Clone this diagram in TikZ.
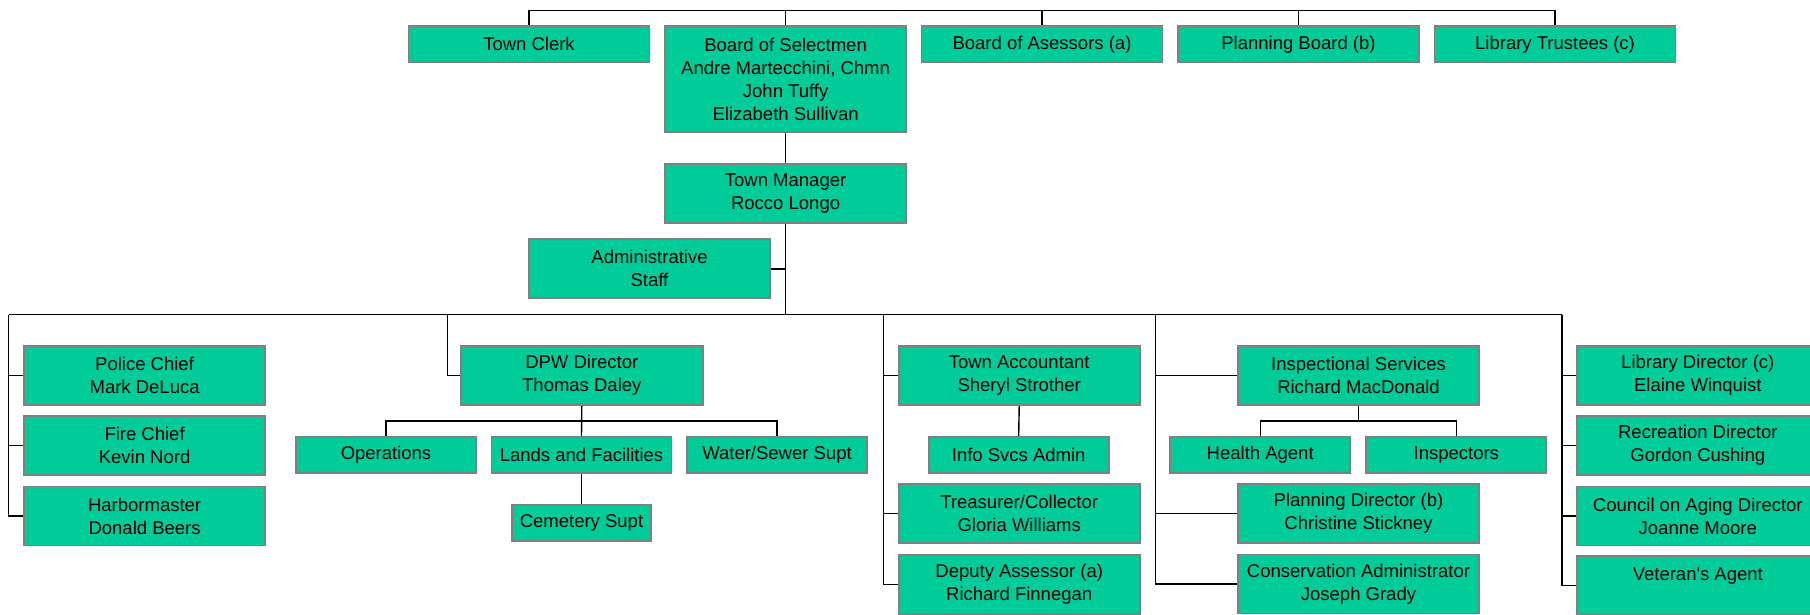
\documentclass[tikz,border=0pt]{standalone}
\usepackage{fontspec}
\setmainfont{Liberation Sans}
\usepackage{tikz}
\usetikzlibrary{calc}

\definecolor{boxgreen}{RGB}{0,204,153}
\definecolor{boxedge}{RGB}{128,128,128}

\begin{document}
\begin{tikzpicture}[x=1pt,y=-1pt,
    post/.style={draw=boxedge, line width=1.8pt, fill=boxgreen, inner sep=0pt,
        minimum width=241pt, minimum height=59pt, align=center,
        font=\fontsize{18.5}{23}\selectfont},
    onerow/.style={post, minimum height=36pt},
    small/.style={post, minimum width=180pt, minimum height=36.6pt},
    link/.style={line width=1.4pt}]
    %%Background
    \useasboundingbox (0,0) rectangle (1810,614);

    %% Board level
    \node[onerow] (clerk) at (529,44.3) {Town Clerk};
    \node[post, minimum height=105.4pt] (board) at (785.6,79)
        {Board of Selectmen\\Andre Martecchini, Chmn\\John Tuffy\\Elizabeth Sullivan};
    \node[onerow] (assessors) at (1042,44.3) {Board of Asessors (a)};
    \node[onerow] (planning) at (1298.5,44.3) {Planning Board (b)};
    \node[onerow] (trustees) at (1555,44.3) {Library Trustees (c)};
    \coordinate (topbus) at (0,10.7);

    \draw[link] (clerk.north) -- (clerk.north |- topbus) -- (trustees.north |- topbus) -- (trustees.north);
    \foreach \n in {board,assessors,planning}
    {
    \draw[link] (\n.north) -- (\n.north |- topbus);
    }

    %% Manager
    \node[post] (manager) at (785.6,193.2) {Town Manager\\Rocco Longo};
    \node[post, minimum width=240.5pt] (admin) at (649.5,268.8) {Administrative\\Staff};
    \coordinate (c1) at (8.6,314.5);
    \coordinate (c2) at (447.2,314.5);
    \coordinate (c3) at (883.2,314.5);
    \coordinate (c4) at (1155.5,314.5);
    \coordinate (c5) at (1562,314.5);

    \draw[link] (board.south) -- (manager.north);
    \draw[link] (manager.south) -- (manager.south |- c1);
    \draw[link] (admin.east) -- (admin.east -| manager.south);
    \draw[link] (c1) -- (c5);

    %% Public safety
    \node[post] (police) at (144.6,375.7) {Police Chief\\Mark DeLuca};
    \node[post] (fire) at (144.6,445.7) {Fire Chief\\Kevin Nord};
    \node[post] (harbor) at (144.6,516) {Harbormaster\\Donald Beers};
    \foreach \n in {police,fire,harbor}
    {
    \draw[link] (c1) |- (\n.west);
    }

    %% DPW
    \node[post, minimum width=241.6pt] (dpw) at (581.8,375.7) {DPW Director\\Thomas Daley};
    \node[small] (ops) at (386,455) {Operations};
    \node[small] (lands) at (581.5,455) {Lands and Facilities};
    \node[small] (water) at (777,455) {Water/Sewer Supt};
    \node[small, minimum width=139pt] (cemetery) at (581.5,523) {Cemetery Supt};
    \coordinate (dpwbus) at ($(dpw.south)!0.5!(lands.north)$);

    \draw[link] (c2) |- (dpw.west);
    \draw[link] (dpw.south) -- (lands.north);
    \draw[link] (ops.north) |- (dpwbus) -| (water.north);
    \draw[link] (lands.south) -- (cemetery.north);

    %% Finance
    \node[post] (accountant) at (1019.2,375.7) {Town Accountant\\Sheryl Strother};
    \node[small] (infosvcs) at (1018.7,455) {Info Svcs Admin};
    \node[post] (treasurer) at (1019.2,513.6) {Treasurer/Collector\\Gloria Williams};
    \node[post] (deputy) at (1019.2,584.3) {Deputy Assessor (a)\\Richard Finnegan};

    \draw[link] (accountant.south) -- (infosvcs.north);
    \foreach \n in {accountant,treasurer,deputy}
    {
    \draw[link] (c3) |- (\n.west);
    }

    %% Inspections and planning
    \node[post] (insp) at (1358.5,375.7) {Inspectional Services\\Richard MacDonald};
    \node[small] (health) at (1260.2,455) {Health Agent};
    \node[small] (inspectors) at (1456.3,455) {Inspectors};
    \node[post] (plandir) at (1358.5,513.5) {Planning Director (b)\\Christine Stickney};
    \node[post] (conserv) at (1358.5,584) {Conservation Administrator\\Joseph Grady};
    \coordinate (inspbus) at ($(insp.south)!0.5!(insp.south |- health.north)$);

    \draw[link] (insp.south) -- (inspbus);
    \draw[link] (health.north) |- (inspbus) -| (inspectors.north);
    \foreach \n in {insp,plandir,conserv}
    {
    \draw[link] (c4) |- (\n.west);
    }

    %% Library and services
    \node[post] (libdir) at (1697.8,375.7) {Library Director (c)\\Elaine Winquist};
    \node[post] (recreation) at (1697.8,445.7) {Recreation Director\\Gordon Cushing};
    \node[post] (council) at (1697.8,516) {Council on Aging Director\\Joanne Moore};
    \node[post] (veteran) at (1697.8,585.7) {Veteran\textquotesingle s Agent\\\mbox{}};
    \foreach \n in {libdir,recreation,council,veteran}
    {
    \draw[link] (c5) |- (\n.west);
    }

\end{tikzpicture}
\end{document}
